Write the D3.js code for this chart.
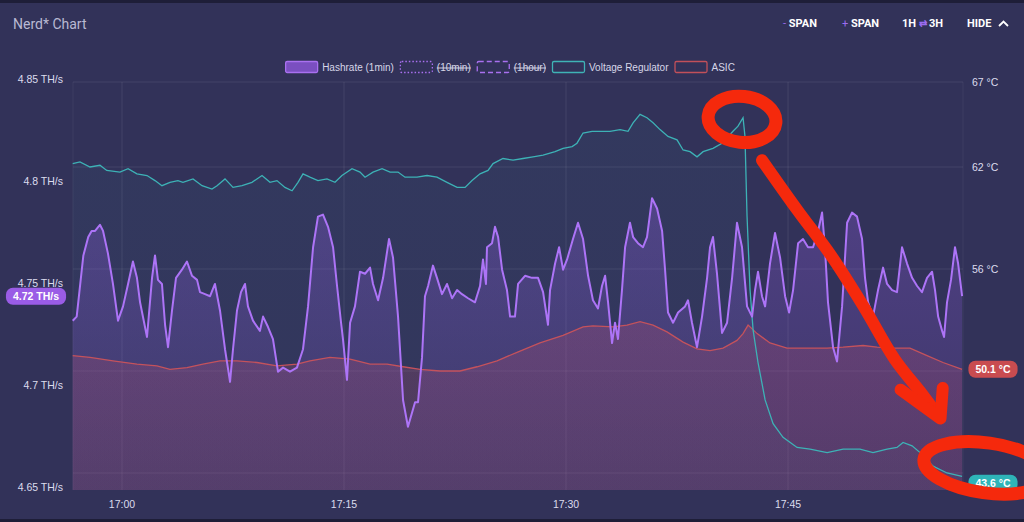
<!DOCTYPE html>
<html>
<head>
<meta charset="utf-8">
<script src="https://cdn.jsdelivr.net/npm/d3@7"></script>
<style>
  html, body { margin: 0; padding: 0; background: #323259; }
  svg { display: block; }
</style>
</head>
<body>
<svg id="chart" width="1024" height="522"></svg>
<script>
// minutes after 17:00 -> value
var hashrate = [
  [-3.33, 4.733], [-3.06, 4.735], [-2.61, 4.765], [-2.28, 4.774], [-2.05, 4.777], [-1.82, 4.777], [-1.49, 4.780],
  [-1.28, 4.777], [-0.95, 4.766], [-0.61, 4.751], [-0.27, 4.733], [0.07, 4.740], [0.41, 4.751], [0.74, 4.762],
  [1.01, 4.754], [1.22, 4.742], [1.69, 4.725], [2.03, 4.754], [2.23, 4.765], [2.43, 4.753], [2.70, 4.751],
  [2.91, 4.731], [3.11, 4.720], [3.38, 4.738], [3.65, 4.754], [4.05, 4.758], [4.39, 4.762], [4.73, 4.755],
  [5.07, 4.753], [5.27, 4.747], [5.61, 4.746], [5.95, 4.745], [6.28, 4.751], [6.62, 4.738], [6.96, 4.719],
  [7.30, 4.703], [7.50, 4.719], [7.77, 4.738], [8.04, 4.747], [8.31, 4.751], [8.51, 4.740], [8.85, 4.733],
  [9.32, 4.728], [9.53, 4.735], [9.86, 4.730], [10.20, 4.724], [10.54, 4.708], [10.88, 4.710], [11.35, 4.708],
  [11.82, 4.710], [12.23, 4.719], [12.57, 4.740], [12.91, 4.769], [13.24, 4.784], [13.58, 4.785], [13.92, 4.779],
  [14.26, 4.769], [14.53, 4.750], [14.80, 4.732], [14.93, 4.724], [15.20, 4.704], [15.41, 4.732], [15.74, 4.740],
  [16.08, 4.757], [16.42, 4.756], [16.76, 4.759], [16.96, 4.751], [17.30, 4.743], [17.64, 4.754], [18.04, 4.773],
  [18.31, 4.764], [18.65, 4.735], [18.99, 4.694], [19.32, 4.681], [19.80, 4.693], [20.00, 4.693], [20.27, 4.715],
  [20.47, 4.745], [20.68, 4.750], [21.01, 4.760], [21.28, 4.754], [21.62, 4.746], [21.96, 4.751], [22.30, 4.744],
  [22.64, 4.748], [22.97, 4.746], [23.38, 4.744], [23.85, 4.742], [24.19, 4.750], [24.39, 4.763], [24.59, 4.751],
  [24.66, 4.769], [25.00, 4.771], [25.20, 4.779], [25.41, 4.774], [25.68, 4.758], [26.01, 4.748], [26.22, 4.735],
  [26.55, 4.735], [26.76, 4.751], [27.23, 4.755], [27.70, 4.754], [28.11, 4.754], [28.45, 4.747], [28.78, 4.731],
  [28.92, 4.748], [29.26, 4.761], [29.53, 4.769], [29.80, 4.758], [30.07, 4.763], [30.47, 4.773], [30.81, 4.781],
  [31.15, 4.773], [31.49, 4.755], [31.82, 4.743], [32.16, 4.739], [32.43, 4.750], [32.64, 4.755], [32.84, 4.742],
  [33.11, 4.722], [33.31, 4.732], [33.51, 4.724], [33.78, 4.748], [33.99, 4.769], [34.32, 4.781], [34.53, 4.774],
  [34.86, 4.771], [35.20, 4.769], [35.47, 4.774], [35.81, 4.793], [36.15, 4.788], [36.49, 4.777], [36.69, 4.758],
  [36.89, 4.737], [37.23, 4.732], [37.57, 4.737], [38.04, 4.740], [38.24, 4.743], [38.51, 4.732], [38.85, 4.720],
  [39.19, 4.735], [39.53, 4.754], [39.73, 4.769], [39.93, 4.774], [40.20, 4.756], [40.54, 4.727], [40.88, 4.732],
  [41.22, 4.754], [41.55, 4.781], [41.89, 4.769], [42.23, 4.740], [42.57, 4.735], [42.77, 4.748], [42.97, 4.757],
  [43.24, 4.745], [43.45, 4.740], [43.78, 4.761], [44.12, 4.776], [44.46, 4.764], [44.80, 4.745], [45.07, 4.737],
  [45.34, 4.748], [45.68, 4.771], [46.01, 4.773], [46.35, 4.769], [46.69, 4.769], [47.03, 4.777], [47.30, 4.786],
  [47.50, 4.768], [47.70, 4.742], [48.04, 4.720], [48.31, 4.713], [48.65, 4.740], [48.99, 4.781], [49.32, 4.786],
  [49.66, 4.784], [50.00, 4.773], [50.20, 4.754], [50.41, 4.742], [50.74, 4.735], [51.08, 4.748], [51.42, 4.759],
  [51.69, 4.751], [52.03, 4.748], [52.36, 4.747], [52.70, 4.769], [53.04, 4.761], [53.38, 4.754], [53.72, 4.750],
  [54.05, 4.747], [54.39, 4.754], [54.73, 4.757], [54.93, 4.748], [55.14, 4.735], [55.41, 4.728], [55.54, 4.725],
  [55.74, 4.742], [56.01, 4.753], [56.28, 4.769], [56.49, 4.761], [56.76, 4.745]
];

var vrTemp = [
  [-3.33, 62.2], [-2.84, 62.3], [-2.16, 62.0], [-1.49, 62.1], [-1.03, 61.8], [-0.14, 61.7], [0.41, 61.9],
  [1.01, 61.6], [1.69, 61.5], [2.23, 61.2], [2.70, 60.9], [3.24, 61.1], [3.78, 61.2], [4.12, 61.1], [4.80, 61.3],
  [5.41, 60.9], [6.08, 60.7], [6.42, 60.9], [6.96, 61.3], [7.50, 60.8], [8.11, 60.9], [8.78, 61.1], [9.46, 61.5],
  [10.00, 61.1], [10.47, 61.2], [11.01, 60.8], [11.49, 60.6], [11.89, 61.1], [12.23, 61.6], [12.70, 61.4],
  [13.24, 61.2], [13.85, 61.3], [14.39, 61.1], [14.86, 61.5], [15.54, 61.9], [16.08, 61.7], [16.42, 61.4],
  [16.96, 61.7], [17.57, 61.9], [18.11, 61.7], [18.65, 61.7], [19.12, 61.4], [19.93, 61.4], [20.61, 61.5],
  [21.28, 61.4], [21.96, 61.1], [22.64, 60.8], [23.18, 60.8], [23.65, 61.2], [24.19, 61.6], [24.73, 61.8],
  [25.07, 62.2], [25.74, 62.5], [26.42, 62.4], [27.09, 62.5], [27.77, 62.6], [28.45, 62.7], [29.26, 62.9],
  [29.80, 63.1], [30.41, 63.2], [30.74, 63.4], [31.15, 64.0], [31.76, 64.1], [32.30, 64.1], [32.97, 64.1],
  [33.65, 64.2], [34.19, 64.1], [34.53, 64.6], [35.00, 65.1], [35.47, 64.9], [35.88, 64.6], [36.35, 64.2],
  [36.89, 63.8], [37.50, 63.6], [37.91, 63.0], [38.38, 62.9], [38.85, 62.6], [39.26, 62.9], [39.93, 63.1],
  [40.54, 63.4], [41.28, 64.1], [41.62, 64.4], [41.96, 64.9], [42.09, 63.8], [42.23, 59.1], [42.43, 54.8],
  [42.64, 52.4], [42.97, 50.5], [43.45, 48.3], [43.99, 46.9], [44.66, 46.1], [45.61, 45.5], [46.49, 45.4],
  [47.64, 45.2], [48.72, 45.4], [49.86, 45.4], [50.74, 45.2], [51.69, 45.4], [52.36, 45.5], [52.77, 45.8],
  [53.38, 45.6], [53.92, 45.2], [54.80, 44.4], [55.74, 44.0], [56.76, 43.8]
];

var asicTemp = [
  [-3.33, 50.9], [-2.16, 50.8], [-0.61, 50.6], [1.01, 50.4], [2.36, 50.3], [3.24, 50.1], [4.39, 50.2],
  [5.47, 50.4], [6.62, 50.6], [7.77, 50.6], [9.12, 50.5], [10.47, 50.3], [11.82, 50.4], [12.70, 50.6],
  [14.05, 50.8], [15.41, 50.7], [16.76, 50.4], [17.91, 50.4], [18.99, 50.25], [20.14, 50.1], [21.49, 50.0],
  [22.84, 50.0], [23.99, 50.25], [25.34, 50.6], [26.69, 51.1], [28.24, 51.65], [29.80, 52.1], [31.15, 52.6],
  [31.82, 52.65], [33.18, 52.6], [34.12, 52.7], [35.00, 52.9], [35.88, 52.7], [36.82, 52.3], [37.91, 51.7],
  [38.85, 51.3], [39.73, 51.2], [40.61, 51.35], [41.55, 51.8], [41.96, 52.2], [42.30, 52.7], [42.91, 52.2],
  [43.78, 51.65], [44.93, 51.35], [46.28, 51.35], [47.64, 51.35], [48.72, 51.4], [50.07, 51.5], [51.01, 51.4],
  [52.09, 51.35], [53.24, 51.35], [54.39, 50.9], [55.47, 50.5], [56.76, 50.1]
];

var timeSpan = [-3.31, 56.82];          // minutes after 17:00
var hashTicks = [4.65, 4.7, 4.75, 4.8, 4.85];
var hashDomain = [4.65, 4.85];
var tempDomain = [43, 67];
var tempGrid = [44, 50, 56, 62, 67];
var tempLabels = [56, 62, 67];

var legendItems = [
  { name: 'Hashrate (1min)', color: '#a970f0', kind: 'solid', off: false },
  { name: '(10min)', color: '#a970f0', kind: 'dotted', off: true },
  { name: '(1hour)', color: '#a970f0', kind: 'dashed', off: true },
  { name: 'Voltage Regulator', color: '#3fb3b6', kind: 'outline', off: false },
  { name: 'ASIC', color: '#c2505a', kind: 'outline', off: false }
];

var badges = [
  { text: '4.72 TH/s', axis: 'hash', value: 4.745, color: '#9a5ce6' },
  { text: '50.1 °C', axis: 'temp', value: 50.1, color: '#c94c50' },
  { text: '43.6 °C', axis: 'temp', value: 43.4, color: '#2eb4b8' }
];

// hand drawn annotations (minutes, °C)
var annoRings = [
  { m: 41.89, t: 64.8, rx: 34, ry: 23, rot: 6 },
  { m: 58.4, t: 44.3, rx: 63, ry: 25, rot: 8 }
];
var annoArrow = [[43.24, 62.4], [45.6, 59.5], [47.9, 56.8], [50.1, 53.8], [52.2, 50.7], [54.1, 48.6], [55.2, 47.3]];
var annoHead = [[52.6, 48.9], [55.3, 47.2], [55.45, 49.0]];

var base = new Date(2024, 0, 1, 17, 0, 0).getTime();
function toDate(m) { return new Date(base + m * 60000); }

var W = 1024, H = 522;
var plot = { left: 73, right: 963, top: 82, bottom: 490 };
var font = '"Liberation Sans", Arial, sans-serif';

var svg = d3.select('#chart');

var x = d3.scaleTime().domain(timeSpan.map(toDate)).range([plot.left, plot.right]);
var yHash = d3.scaleLinear().domain(hashDomain).range([plot.bottom, plot.top]);
var yTemp = d3.scaleLinear().domain(tempDomain).range([plot.bottom, plot.top]);

// card frame
svg.append('rect').attr('width', W).attr('height', H).attr('fill', '#323259');
svg.append('rect').attr('width', W).attr('height', 3).attr('fill', '#1e1e38');
svg.append('rect').attr('y', H - 3).attr('width', W).attr('height', 3).attr('fill', '#1e1e38');

// header
svg.append('text').attr('x', 13).attr('y', 29)
  .attr('font-family', 'Roboto, sans-serif').attr('font-size', 14)
  .attr('fill', '#b9b9d3').text('Nerd* Chart');

var buttons = [
  { x: 783, pre: '-', text: 'SPAN' },
  { x: 842, pre: '+', text: 'SPAN' },
  { x: 902, pre: '', text: '1H', mid: '⇄', post: '3H' },
  { x: 967, pre: '', text: 'HIDE' }
];
buttons.forEach(function (b) {
  var t = svg.append('text').attr('x', b.x).attr('y', 27)
    .attr('font-family', 'Roboto, sans-serif').attr('font-size', 11)
    .attr('font-weight', 'bold').attr('fill', '#ffffff');
  if (b.pre) t.append('tspan').attr('fill', '#9b6cf0').attr('font-weight', 'normal').text(b.pre + ' ');
  t.append('tspan').text(b.text);
  if (b.mid) {
    t.append('tspan').attr('fill', '#9b6cf0').attr('font-size', 10).text(' ' + b.mid + ' ');
    t.append('tspan').text(b.post);
  }
});
svg.append('path').attr('d', 'M999,26 L1003.5,21.5 L1008,26')
  .attr('fill', 'none').attr('stroke', '#ffffff').attr('stroke-width', 1.8);

// legend
var legend = svg.append('g').attr('font-family', font).attr('font-size', 10).attr('fill', '#d6d6e8');
var lx = 0;
legendItems.forEach(function (d) {
  var g = legend.append('g').attr('transform', 'translate(' + lx + ',0)');
  var r = g.append('rect').attr('x', 0.5).attr('y', 61.5).attr('width', 32).attr('height', 11).attr('rx', 1.5)
    .attr('stroke', d.color).attr('stroke-width', 1.3);
  if (d.kind === 'solid') r.attr('fill', '#7a4fc0');
  else r.attr('fill', 'none');
  if (d.kind === 'dotted') r.attr('stroke-dasharray', '1.5,2');
  if (d.kind === 'dashed') r.attr('stroke-dasharray', '5,3');
  var t = g.append('text').attr('x', 37).attr('y', 71).text(d.name);
  if (d.off) t.attr('text-decoration', 'line-through');
  lx += 37 + t.node().getComputedTextLength() + 6;
});
legend.attr('transform', 'translate(' + (513 - lx / 2) + ',0)');

// grid
var grid = svg.append('g');
grid.selectAll('line.h').data(tempGrid).enter().append('line')
  .attr('x1', plot.left).attr('x2', plot.right)
  .attr('y1', function (d) { return yTemp(d); }).attr('y2', function (d) { return yTemp(d); })
  .attr('stroke', 'rgba(255,255,255,0.09)');
var timeTicks = x.ticks(d3.timeMinute.every(15));
grid.selectAll('line.v').data(timeTicks).enter().append('line')
  .attr('x1', function (d) { return x(d); }).attr('x2', function (d) { return x(d); })
  .attr('y1', plot.top).attr('y2', plot.bottom)
  .attr('stroke', 'rgba(255,255,255,0.09)');
grid.append('line').attr('x1', plot.left).attr('x2', plot.left).attr('y1', plot.top).attr('y2', plot.bottom)
  .attr('stroke', 'rgba(255,255,255,0.06)');
grid.append('line').attr('x1', plot.right).attr('x2', plot.right).attr('y1', plot.top).attr('y2', plot.bottom)
  .attr('stroke', 'rgba(255,255,255,0.06)');

// gradients
var defs = svg.append('defs');
function grad(id, color, o1, o2, y1, y2) {
  var g = defs.append('linearGradient').attr('id', id).attr('gradientUnits', 'userSpaceOnUse')
    .attr('x1', 0).attr('x2', 0).attr('y1', y1).attr('y2', y2);
  g.append('stop').attr('offset', 0).attr('stop-color', color).attr('stop-opacity', o1);
  g.append('stop').attr('offset', 1).attr('stop-color', color).attr('stop-opacity', o2);
}
grad('gHash', '#9b63f0', 0.28, 0.10, 200, plot.bottom);
grad('gVr', '#40b8c0', 0.05, 0.03, 110, plot.bottom);
grad('gAsic', '#c8506e', 0.22, 0.17, 320, plot.bottom);

var hashArea = d3.area().x(function (d) { return x(toDate(d[0])); })
  .y0(plot.bottom).y1(function (d) { return yHash(d[1]); });
var tempArea = d3.area().x(function (d) { return x(toDate(d[0])); })
  .y0(plot.bottom).y1(function (d) { return yTemp(d[1]); });
var hashLine = d3.line().x(function (d) { return x(toDate(d[0])); }).y(function (d) { return yHash(d[1]); });
var tempLine = d3.line().x(function (d) { return x(toDate(d[0])); }).y(function (d) { return yTemp(d[1]); });

var series = svg.append('g');
series.append('path').datum(vrTemp).attr('d', tempArea).attr('fill', 'url(#gVr)');
series.append('path').datum(hashrate).attr('d', hashArea).attr('fill', 'url(#gHash)');
series.append('path').datum(asicTemp).attr('d', tempArea).attr('fill', 'url(#gAsic)');

series.append('path').datum(asicTemp).attr('d', tempLine)
  .attr('fill', 'none').attr('stroke', '#c4525c').attr('stroke-width', 1.3);
series.append('path').datum(vrTemp).attr('d', tempLine)
  .attr('fill', 'none').attr('stroke', '#3db2b6').attr('stroke-width', 1.3);
series.append('path').datum(hashrate).attr('d', hashLine)
  .attr('fill', 'none').attr('stroke', '#ad74f7').attr('stroke-width', 2).attr('stroke-linejoin', 'round');

// axes labels
var axisText = svg.append('g').attr('font-family', font).attr('font-size', 10.5).attr('fill', '#dcdcee');
axisText.selectAll('text.l').data(hashTicks).enter().append('text')
  .attr('x', 63).attr('y', function (d) { return yHash(d); })
  .attr('dy', '0.1em').attr('text-anchor', 'end')
  .text(function (d) { return (+d.toFixed(2)) + ' TH/s'; });
axisText.selectAll('text.r').data(tempLabels).enter().append('text')
  .attr('x', 972).attr('y', function (d) { return yTemp(d); })
  .attr('dy', '0.35em')
  .text(function (d) { return d + ' °C'; });
axisText.selectAll('text.t').data(timeTicks).enter().append('text')
  .attr('x', function (d) { return x(d); }).attr('y', 508)
  .attr('text-anchor', 'middle')
  .text(d3.timeFormat('%H:%M'));

// value badges
badges.forEach(function (b) {
  var cy = b.axis === 'hash' ? yHash(b.value) : yTemp(b.value);
  var g = svg.append('g');
  var t = g.append('text').attr('font-family', font).attr('font-size', 10.5).attr('font-weight', 'bold')
    .attr('fill', '#ffffff').attr('text-anchor', 'middle').attr('dy', '0.36em').text(b.text);
  var w = t.node().getComputedTextLength() + 14;
  var cx = b.axis === 'hash' ? 36 : 993;
  g.insert('rect', 'text').attr('x', cx - w / 2).attr('y', cy - 8.5).attr('width', w).attr('height', 17)
    .attr('rx', 7).attr('fill', b.color);
  t.attr('x', cx).attr('y', cy);
});

// red hand drawn annotations
var anno = svg.append('g').attr('fill', 'none').attr('stroke', '#f5290c')
  .attr('stroke-linecap', 'round').attr('stroke-linejoin', 'round');
annoRings.forEach(function (r) {
  var cx = x(toDate(r.m)), cy = yTemp(r.t);
  anno.append('ellipse').attr('cx', cx).attr('cy', cy).attr('rx', r.rx).attr('ry', r.ry)
    .attr('transform', 'rotate(' + r.rot + ',' + cx + ',' + cy + ')')
    .attr('stroke-width', 13);
});
var annoLine = d3.line().curve(d3.curveCatmullRom)
  .x(function (d) { return x(toDate(d[0])); }).y(function (d) { return yTemp(d[1]); });
anno.append('path').datum(annoArrow).attr('d', annoLine).attr('stroke-width', 12);
anno.append('path').datum(annoHead).attr('d', d3.line()
  .x(function (d) { return x(toDate(d[0])); }).y(function (d) { return yTemp(d[1]); }))
  .attr('stroke-width', 12);
</script>
</body>
</html>
